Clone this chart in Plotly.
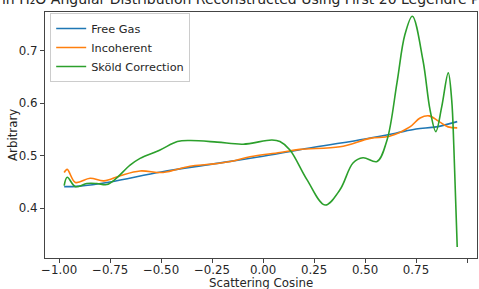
import plotly.graph_objects as go

# ---- data ----
free_gas_x = [-0.975, -0.9, -0.75, -0.5, -0.25, 0.0, 0.25, 0.5, 0.65, 0.75, 0.85, 0.952]
free_gas_y = [0.441, 0.442, 0.450, 0.469, 0.484, 0.499, 0.516, 0.532, 0.543, 0.551, 0.555, 0.565]

incoh_x = [-0.975, -0.96, -0.92, -0.848, -0.78, -0.7, -0.603, -0.49, -0.358, -0.26, -0.16,
           -0.064, 0.083, 0.18, 0.377, 0.525, 0.62, 0.72, 0.77, 0.814, 0.86, 0.907, 0.952]
incoh_y = [0.468, 0.474, 0.449, 0.457, 0.452, 0.462, 0.471, 0.468, 0.480, 0.4836, 0.489,
           0.498, 0.506, 0.512, 0.517, 0.533, 0.537, 0.555, 0.572, 0.576, 0.566, 0.555, 0.553]

skold_x = [-0.975, -0.96, -0.92, -0.864, -0.815, -0.766, -0.725, -0.652, -0.603, -0.505,
           -0.42, -0.358, -0.225, -0.098, 0.044, 0.083, 0.132, 0.216, 0.304, 0.377, 0.441,
           0.49, 0.559, 0.608, 0.657, 0.695, 0.732, 0.784, 0.819, 0.847, 0.876, 0.908,
           0.925, 0.936, 0.952]
skold_y = [0.443, 0.459, 0.441, 0.447, 0.447, 0.445, 0.455, 0.482, 0.495, 0.511,
           0.527, 0.529, 0.526, 0.522, 0.530, 0.527, 0.511, 0.454, 0.406, 0.435, 0.486,
           0.496, 0.489, 0.530, 0.640, 0.730, 0.766, 0.682, 0.587, 0.546, 0.593, 0.658,
           0.606, 0.511, 0.326]

series_names = ["Free Gas", "Incoherent", "Sköld Correction"]
series_colors = ["#1f77b4", "#ff7f0e", "#2ca02c"]

title_text = "H in H\u2082O Angular Distribution Reconstructed Using First 20 Legendre Polynomials"
x_label = "Scattering Cosine"
y_label = "Arbitrary"

FONT = "DejaVu Sans"
TXT = "#262626"
SPINE = "#444444"
FS = 11.8

fig = go.Figure()
for xs, ys, name, col in zip([free_gas_x, incoh_x, skold_x],
                             [free_gas_y, incoh_y, skold_y],
                             series_names, series_colors):
    fig.add_trace(go.Scatter(x=xs, y=ys, mode="lines", name=name,
                             line=dict(color=col, width=1.6, shape="spline", smoothing=1.0)))

axis_common = dict(showgrid=False, zeroline=False, showline=True, mirror=True,
                   linecolor=SPINE, linewidth=1, ticks="outside", ticklen=4,
                   tickcolor=SPINE, tickwidth=1, automargin=False,
                   tickfont=dict(family=FONT, size=FS, color=TXT))

fig.update_layout(
    width=479, height=289,
    margin=dict(l=45, r=2, t=12, b=31),
    paper_bgcolor="white", plot_bgcolor="white",
    font=dict(family=FONT, size=FS, color=TXT),
    showlegend=True,
    legend=dict(x=0.012, y=0.996, xanchor="left", yanchor="top",
                bgcolor="rgba(255,255,255,0.8)", bordercolor="#cccccc", borderwidth=1,
                font=dict(family=FONT, size=11.3, color=TXT), tracegroupgap=0,
                itemwidth=30),
    xaxis=dict(range=[-1.069, 1.049], tickmode="linear", tick0=-1.0, dtick=0.25,
               tickformat=".2f", ticklabelstandoff=-3, **axis_common),
    yaxis=dict(range=[0.305, 0.774], tickmode="linear", tick0=0.3, dtick=0.1,
               tickformat=".1f", **axis_common),
    annotations=[
        dict(text=title_text, xref="paper", yref="paper", x=0.5, y=1.0,
             xanchor="center", yanchor="bottom", yshift=3, xshift=9, showarrow=False,
             font=dict(family=FONT, size=14, color=TXT)),
        dict(text=x_label, xref="paper", yref="paper", x=0.5, y=-(283 - 258) / 246,
             xanchor="center", yanchor="middle", showarrow=False,
             font=dict(family=FONT, size=FS, color=TXT)),
        dict(text=y_label, xref="paper", yref="paper", x=(13 - 45) / 432, y=0.5,
             xanchor="center", yanchor="middle", textangle=-90, showarrow=False,
             font=dict(family=FONT, size=FS, color=TXT)),
    ],
)

fig.write_html("out.html", config={"displayModeBar": False},
               post_script="document.body.style.margin='0';document.body.style.overflow='hidden';")
